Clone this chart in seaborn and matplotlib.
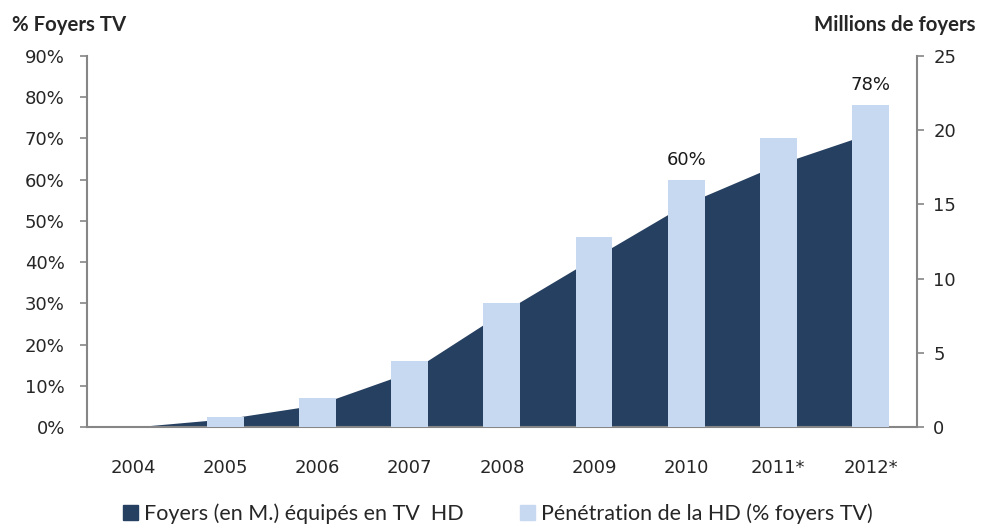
import numpy as np
import matplotlib
matplotlib.use("Agg")
import matplotlib.pyplot as plt
from matplotlib.patches import Patch
import seaborn as sns

# ==============================
# Data
# ==============================
years = ["2004", "2005", "2006", "2007", "2008", "2009", "2010", "2011*", "2012*"]
penetration = [0, 2.5, 7, 16, 30, 46, 60, 70, 78]          # % foyers TV (left axis)
foyers_hd = [0, 0.55, 1.5, 3.7, 7.7, 11.4, 15.05, 17.7, 19.8]  # millions (right axis)
labelled = {"2010": "60%", "2012*": "78%"}

DARK = "#264061"
LIGHT = "#C6D9F1"
GREY = "#868686"
NUM_FONT = ["DejaVu Sans"]
TXT_FONT = ["Lato", "DejaVu Sans"]

# ==============================
# Figure
# ==============================
sns.set_style("white")
plt.rcParams["font.family"] = NUM_FONT

fig = plt.figure(figsize=(9.9, 5.3), dpi=100)
ax1 = fig.add_axes([0.0879, 0.1943, 0.838, 0.70])
ax2 = ax1.twinx()

# area (right axis) behind the bars
x = np.arange(len(years))
ax2.fill_between(x, foyers_hd, 0, color=DARK, linewidth=0)
ax2.set_ylim(0, 25)
ax2.set_yticks(range(0, 26, 5))

# bars (left axis)
sns.barplot(x=years, y=penetration, color=LIGHT, width=0.4, saturation=1,
            linewidth=0, ax=ax1, zorder=3)
ax1.set_zorder(ax2.get_zorder() + 1)
ax1.patch.set_visible(False)
ax1.set_ylim(0, 90)
ax1.set_yticks(range(0, 91, 10))
ax1.set_yticklabels([f"{v}%" for v in range(0, 91, 10)])
ax1.set_xlim(-0.5, len(years) - 0.5)

for i, yr in enumerate(years):
    if yr in labelled:
        ax1.annotate(labelled[yr], (i, penetration[i]), xytext=(0, 8),
                     textcoords="offset points", ha="center", va="bottom",
                     fontsize=13, color="#1a1a1a")

# spines / ticks
for ax in (ax1, ax2):
    for s in ax.spines.values():
        s.set_visible(False)
        s.set_color(GREY)
        s.set_linewidth(1.5)
ax1.spines["left"].set_visible(True)
ax1.spines["bottom"].set_visible(True)
ax2.spines["right"].set_visible(True)

ax1.set_xticks(np.arange(-0.5, len(years), 1), minor=True)
ax1.tick_params(axis="x", which="major", length=0, pad=23, labelsize=13)
ax1.tick_params(axis="x", which="minor", length=5, width=1.2, color=GREY,
                direction="out")
ax1.tick_params(axis="y", length=5, width=1.2, color=GREY, direction="out",
                left=True, labelsize=13, pad=11)
ax2.tick_params(axis="y", length=5, width=1.2, color=GREY, direction="out",
                right=True, labelsize=13, pad=7)
ax1.set_xlabel("")

# axis headers
fig.text(0.012, 0.953, "% Foyers TV", fontsize=14.7, fontweight="bold",
         family=TXT_FONT, ha="left", va="center")
fig.text(0.985, 0.953, "Millions de foyers", fontsize=14.7, fontweight="bold",
         family=TXT_FONT, ha="right", va="center")

# legend
handles = [Patch(color=DARK, label="Foyers (en M.) équipés en TV  HD"),
           Patch(color=LIGHT, label="Pénétration de la HD (% foyers TV)")]
fig.legend(handles=handles, loc="center", bbox_to_anchor=(0.503, 0.031), ncol=2,
           frameon=False, prop={"family": TXT_FONT, "size": 15.5},
           handlelength=0.7, handleheight=0.7, handletextpad=0.3,
           columnspacing=2.6)

fig.savefig("out.png", dpi=100)
plt.close(fig)
